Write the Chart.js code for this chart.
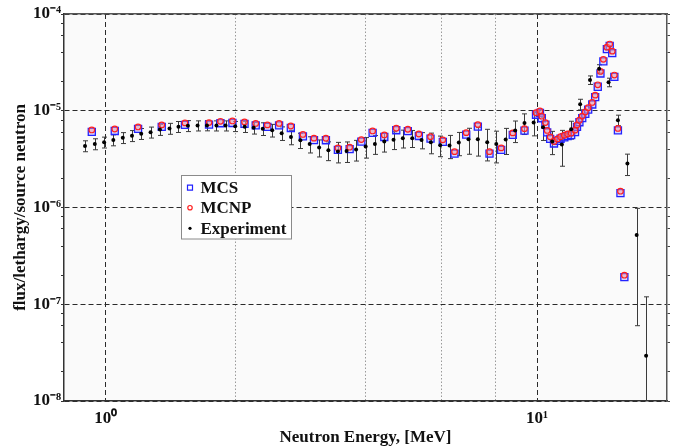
<!DOCTYPE html>
<html>
<head>
<meta charset="utf-8">
<script src="https://cdn.jsdelivr.net/npm/chart.js@4.4.1/dist/chart.umd.min.js"></script>
<style>
  html, body { margin: 0; padding: 0; background: #fff; }
</style>
</head>
<body>
<canvas id="c" width="680" height="448"></canvas>
<script>
// ---- data (flux values in units of 1e-6 per lethargy per source neutron) ----
const FLUX_UNIT = 1e-6;

// simulated spectra: energy bins [MeV]
const simEnergy = [
  0.928, 1.049, 1.188, 1.348, 1.526, 1.735, 1.844, 1.966, 2.097, 2.226,
  2.369, 2.522, 2.685, 2.864, 3.038, 3.238, 3.452, 3.675, 3.912, 4.155,
  4.422, 4.714, 5.014, 5.318, 5.660, 6.044, 6.434, 6.848, 7.286, 7.754,
  8.253, 8.780, 9.346, 9.94, 10.15, 10.25, 10.45, 10.55, 10.72, 10.94,
  11.14, 11.33, 11.56, 11.77, 11.99, 12.24, 12.37, 12.53, 12.72, 12.93,
  13.13, 13.42, 13.63, 13.82, 14.02, 14.24, 14.51, 14.73, 14.93, 15.10,
  15.39, 15.60, 15.93
];
const mcsFlux = [
  6.04, 6.18, 6.49, 6.81, 7.14, 7.19, 7.43, 7.48, 7.31, 7.05,
  6.81, 7.05, 6.64, 5.43, 4.97, 4.96, 3.94, 4.01, 4.80, 5.90,
  5.36, 6.29, 6.15, 5.49, 5.15, 4.77, 3.61, 5.67, 6.86, 3.61,
  3.94, 5.63, 6.23, 9.10, 9.50, 8.37, 7.19, 5.97, 5.12, 4.59,
  4.88, 5.14, 5.32, 5.49, 5.60, 6.01, 6.81, 7.61, 8.39, 9.27,
  10.27, 11.62, 13.82, 17.70, 24.30, 32.4, 43.3, 46.7, 39.4, 22.4,
  6.26, 1.406, 0.1905
];
const mcnpFlux = [
  6.33, 6.48, 6.80, 7.14, 7.49, 7.54, 7.78, 7.84, 7.66, 7.39,
  7.14, 7.39, 6.96, 5.69, 5.21, 5.20, 4.13, 4.20, 5.03, 6.18,
  5.62, 6.59, 6.44, 5.75, 5.40, 5.00, 3.78, 5.94, 7.19, 3.78,
  4.13, 5.90, 6.53, 9.53, 9.95, 8.78, 7.54, 6.26, 5.37, 4.81,
  5.11, 5.39, 5.58, 5.75, 5.87, 6.30, 7.14, 7.98, 8.80, 9.72,
  10.76, 12.18, 14.49, 18.55, 25.47, 34.0, 45.4, 48.9, 41.3, 23.4,
  6.56, 1.474, 0.1997
];

// measurement
const expEnergy = [
  0.895, 0.943, 0.991, 1.041, 1.095, 1.150, 1.208, 1.270, 1.335, 1.405,
  1.474, 1.550, 1.632, 1.716, 1.805, 1.895, 1.995, 2.099, 2.202, 2.311,
  2.431, 2.557, 2.687, 2.825, 2.969, 3.123, 3.281, 3.452, 3.616, 3.804,
  4.003, 4.206, 4.422, 4.646, 4.882, 5.133, 5.395, 5.669, 5.961, 6.264,
  6.582, 6.932, 7.285, 7.660, 8.040, 8.453, 8.893, 9.346, 9.815, 10.32,
  10.84, 11.41, 11.99, 12.58, 13.26, 13.92, 14.64, 15.39, 16.19, 17.01,
  17.89
];
const expFlux = [
  4.33, 4.54, 4.73, 4.99, 5.26, 5.52, 5.80, 6.00, 6.39, 6.56,
  6.85, 7.00, 7.02, 7.05, 7.02, 7.02, 6.92, 6.85, 6.67, 6.53,
  6.29, 5.87, 5.36, 4.96, 4.52, 4.16, 3.91, 3.80, 3.84, 3.98,
  4.26, 4.54, 4.80, 5.02, 5.21, 5.21, 4.99, 4.73, 4.41, 4.38,
  4.70, 5.07, 5.07, 4.73, 4.52, 5.05, 6.26, 7.48, 7.54, 6.75,
  4.82, 4.47, 6.44, 11.67, 20.8, 27.2, 19.7, 8.0, 2.85, 0.52,
  0.0293
];
const expErr = [
  0.56, 0.59, 0.61, 0.65, 0.68, 0.72, 0.75, 0.78, 0.83, 0.85,
  0.89, 0.91, 0.84, 0.85, 0.84, 0.84, 0.83, 0.89, 0.93, 0.98,
  0.94, 0.94, 0.91, 0.89, 0.86, 0.83, 0.86, 0.91, 0.92, 0.96,
  1.02, 1.00, 1.06, 1.05, 1.09, 1.04, 0.95, 1.14, 1.06, 1.18,
  1.27, 1.52, 1.67, 1.70, 1.63, 1.52, 1.57, 1.80, 2.04, 1.82,
  1.30, 1.80, 1.35, 1.47, 2.1, 2.7, 2.0, 1.0, 0.71, 0.46,
  0.090
];

// axes
const xTickValues = [1, 2, 4, 6, 8, 10];
const yDecades = [1e-8, 1e-7, 1e-6, 1e-5, 1e-4];
const yMinorSteps = [2, 4, 6, 8];

// ---- helpers ----
const SUP = { "0": "⁰", "1": "¹", "2": "²", "3": "³", "4": "⁴", "5": "⁵", "6": "⁶", "7": "⁷", "8": "⁸", "9": "⁹", "-": "⁻" };
const isDecade = (v) => Math.abs(Math.log10(v) - Math.round(Math.log10(v))) < 1e-6;
const pow10Label = (v) => "10" + String(Math.round(Math.log10(v))).split("").map((c) => SUP[c]).join("");

const yTickValues = [];
yDecades.forEach((d, i) => {
  yTickValues.push(d);
  if (i < yDecades.length - 1) yMinorSteps.forEach((m) => yTickValues.push(d * m));
});

const toPoints = (xs, ys) => xs.map((x, i) => ({ x, y: ys[i] * FLUX_UNIT }));

Chart.defaults.font.family = '"Liberation Serif", "Times New Roman", serif';
Chart.defaults.font.weight = "bold";
Chart.defaults.color = "#111";

// plot background
const plotBg = {
  id: "plotBg",
  beforeDraw(chart) {
    const { ctx, chartArea: a } = chart;
    ctx.save();
    ctx.fillStyle = "#fafafa";
    ctx.fillRect(a.left, a.top, a.right - a.left, a.bottom - a.top);
    ctx.restore();
  },
};

// vertical error bars for the measurement
const errorBars = {
  id: "errorBars",
  beforeDatasetsDraw(chart) {
    const { ctx, chartArea: a, scales: { x, y } } = chart;
    ctx.save();
    ctx.beginPath();
    ctx.rect(a.left, a.top, a.right - a.left, a.bottom - a.top);
    ctx.clip();
    ctx.strokeStyle = "#3a3a3a";
    ctx.lineWidth = 1;
    expEnergy.forEach((e, i) => {
      const v = expFlux[i] * FLUX_UNIT;
      const s = expErr[i] * FLUX_UNIT;
      const px = Math.round(x.getPixelForValue(e)) + 0.5;
      const yTop = y.getPixelForValue(v + s);
      const lowOk = v - s > 0;
      const yBot = lowOk ? y.getPixelForValue(v - s) : a.bottom;
      ctx.beginPath();
      ctx.moveTo(px, yTop);
      ctx.lineTo(px, yBot);
      ctx.moveTo(px - 2.5, yTop);
      ctx.lineTo(px + 2.5, yTop);
      if (lowOk) {
        ctx.moveTo(px - 2.5, yBot);
        ctx.lineTo(px + 2.5, yBot);
      }
      ctx.stroke();
    });
    ctx.restore();
  },
};

// boxed legend inside the plot
const boxLegend = {
  id: "boxLegend",
  afterDraw(chart) {
    const ctx = chart.ctx;
    const bx = 181.5, by = 175.5, bw = 110, bh = 63.5;
    ctx.save();
    ctx.fillStyle = "#ffffff";
    ctx.fillRect(bx, by, bw, bh);
    ctx.strokeStyle = "#8a8a8a";
    ctx.lineWidth = 1;
    ctx.strokeRect(bx, by, bw, bh);
    const rows = [187.7, 207.7, 228.3];
    chart.data.datasets.forEach((ds, i) => {
      const my = rows[i];
      const mx = 190;
      ctx.lineWidth = 1.2;
      ctx.strokeStyle = ds.borderColor;
      ctx.fillStyle = ds.backgroundColor;
      ctx.beginPath();
      if (ds.pointStyle === "rect") {
        ctx.rect(mx - 2.5, my - 2.5, 5, 5);
        ctx.stroke();
      } else if (ds.pointRadius > 2.5) {
        ctx.arc(mx, my, 2.2, 0, Math.PI * 2);
        ctx.stroke();
      } else {
        ctx.arc(mx, my, 1.6, 0, Math.PI * 2);
        ctx.fill();
      }
      ctx.fillStyle = "#111";
      ctx.font = 'bold 17px "Liberation Serif", "Times New Roman", serif';
      ctx.textBaseline = "middle";
      ctx.textAlign = "left";
      ctx.fillText(ds.label, 200.5, my + 1);
    });
    ctx.restore();
  },
};

const tickFont = { size: 17, weight: "bold" };
const titleFont = { size: 17, weight: "bold" };

new Chart(document.getElementById("c"), {
  type: "scatter",
  data: {
    datasets: [
      {
        label: "MCS",
        data: toPoints(simEnergy, mcsFlux),
        pointStyle: "rect",
        pointRadius: 5,
        borderColor: "#2323ff",
        backgroundColor: "rgba(150,150,255,0.35)",
        borderWidth: 1.3,
        order: 2,
      },
      {
        label: "MCNP",
        data: toPoints(simEnergy, mcnpFlux),
        pointStyle: "circle",
        pointRadius: 2.8,
        borderColor: "#ff1f1f",
        backgroundColor: "rgba(255,150,150,0.45)",
        borderWidth: 1.2,
        order: 1,
      },
      {
        label: "Experiment",
        data: toPoints(expEnergy, expFlux),
        pointStyle: "circle",
        pointRadius: 2,
        borderColor: "#000",
        backgroundColor: "#000",
        borderWidth: 0,
        order: 0,
      },
    ],
  },
  options: {
    responsive: false,
    animation: false,
    devicePixelRatio: 1,
    layout: { padding: 0 },
    plugins: { legend: { display: false }, tooltip: { enabled: false } },
    scales: {
      x: {
        type: "logarithmic",
        position: "bottom",
        min: 0.8,
        max: 20,
        afterBuildTicks: (s) => { s.ticks = xTickValues.map((v) => ({ value: v })); },
        afterFit: (s) => { s.height = 47; },
        ticks: {
          autoSkip: false,
          maxRotation: 0,
          padding: 7,
          font: tickFont,
          color: "#111",
          callback: (v) => (isDecade(v) ? pow10Label(v) : ""),
        },
        grid: {
          drawTicks: false,
          lineWidth: 1,
          color: (c) => (c.tick && !isDecade(c.tick.value) ? "#9a9a9a" : "#2a2a2a"),
        },
        border: {
          color: "#333",
          width: 1.5,
          dash: (c) => (c.tick ? (isDecade(c.tick.value) ? [5, 3] : [1.5, 2]) : []),
        },
        title: { display: true, text: "Neutron Energy, [MeV]", font: titleFont, color: "#111", padding: { top: 0, bottom: 0 } },
      },
      x2: {
        type: "linear",
        position: "top",
        min: 0,
        max: 1,
        afterFit: (s) => { s.height = 14; },
        ticks: { display: false },
        grid: { drawOnChartArea: false, drawTicks: false },
        border: { color: "#555", width: 1.5 },
      },
      y: {
        type: "logarithmic",
        position: "left",
        min: 1e-8,
        max: 1e-4,
        afterBuildTicks: (s) => { s.ticks = yTickValues.map((v) => ({ value: v })); },
        afterFit: (s) => { s.width = 64; },
        ticks: {
          autoSkip: false,
          padding: 0,
          font: tickFont,
          color: "#111",
          callback: (v) => (isDecade(v) ? pow10Label(v) : ""),
        },
        grid: {
          tickLength: 3,
          tickColor: "#333",
          tickWidth: 1,
          lineWidth: 1,
          color: (c) => (c.tick && isDecade(c.tick.value) ? "#2a2a2a" : "rgba(0,0,0,0)"),
        },
        border: { color: "#333", width: 1.5, dash: (c) => (c.tick ? [5, 3] : []) },
        title: { display: true, text: "flux/lethargy/source neutron", font: titleFont, color: "#111", padding: { top: 10, bottom: 0 } },
      },
      y2: {
        type: "logarithmic",
        position: "right",
        min: 1e-8,
        max: 1e-4,
        afterBuildTicks: (s) => { s.ticks = yTickValues.map((v) => ({ value: v })); },
        afterFit: (s) => { s.width = 13; },
        ticks: { display: false },
        grid: { drawOnChartArea: false, tickLength: 3, tickColor: "#444", tickWidth: 1 },
        border: { color: "#555", width: 1.5 },
      },
    },
  },
  plugins: [plotBg, errorBars, boxLegend],
});
</script>
</body>
</html>
